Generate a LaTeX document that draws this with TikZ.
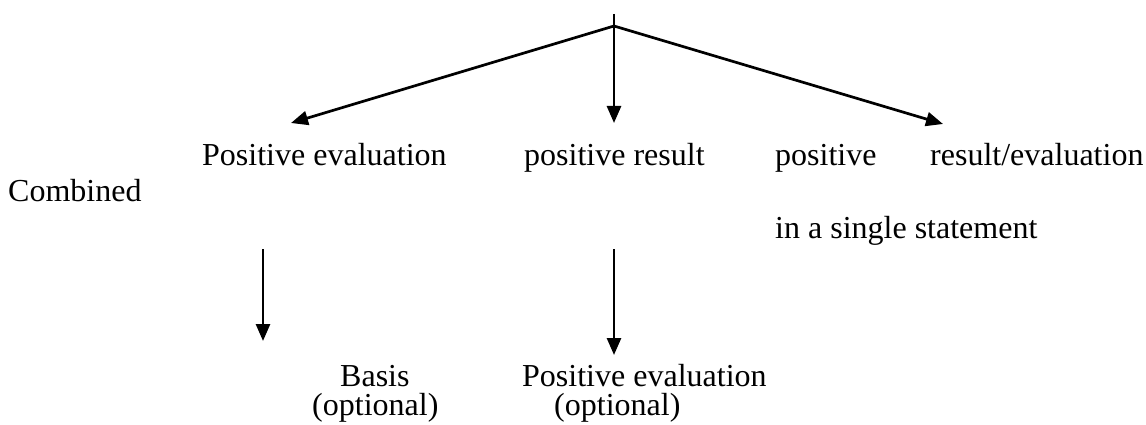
\documentclass[tikz,border=0pt]{standalone}
\usepackage{fontspec}
\setmainfont{Liberation Serif}
\usetikzlibrary{arrows.meta}
\begin{document}
\begin{tikzpicture}[x=1pt,y=-1pt,
  lbl/.style={anchor=base west,inner sep=0pt,font=\fontsize{32}{36}\selectfont},
  conn/.style={line width=2.7pt,-{Triangle[length=17pt,width=14pt]}},
  plain/.style={line width=2.7pt}]
\useasboundingbox (0,0) rectangle (1146,425);
% coordinates
\coordinate (topend) at (614,14);
\coordinate (apex) at (614,26);
\coordinate (tipL) at (291,123);
\coordinate (tipM) at (614,123);
\coordinate (tipR) at (943,124);
\coordinate (d1s) at (263,249);
\coordinate (d1e) at (263,341);
\coordinate (d2s) at (614,249);
\coordinate (d2e) at (614,355);
% texts
\node[lbl] (pe) at (202,165) {Positive evaluation};
\node[lbl] (pr) at (524,165) {positive result};
\node[lbl] (p3) at (775,165) {positive};
\node[lbl] (re) at (930,165) {result/evaluation};
\node[lbl] (comb) at (8,201) {Combined};
\node[lbl] (single) at (775,238) {in a single statement};
\node[lbl] (basis) at (340,386) {Basis};
\node[lbl] (opt1) at (312,415) {(optional)};
\node[lbl] (pe2) at (522,386) {Positive evaluation};
\node[lbl] (opt2) at (554,415) {(optional)};
% connectors
\draw[plain] (topend) -- (apex);
\draw[conn] (apex) -- (tipL);
\draw[conn] (apex) -- (tipM);
\draw[conn] (apex) -- (tipR);
\draw[conn] (d1s) -- (d1e);
\draw[conn] (d2s) -- (d2e);
\end{tikzpicture}
\end{document}
